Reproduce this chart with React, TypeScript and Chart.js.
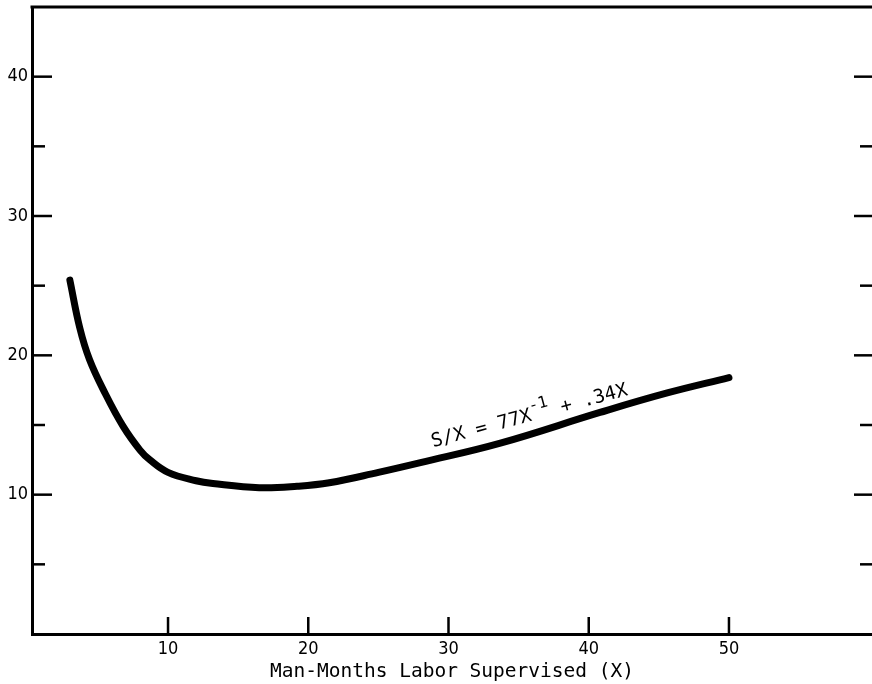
import { useEffect, useRef } from "react";
import { Chart, registerables } from "chart.js";

Chart.register(...registerables);

// Curve (Man-months X vs S/X)
const xValues = [3.0, 3.7, 4.4, 5.5, 6.8, 8.0, 8.7, 10.0, 12.0, 13.2, 16.5, 19.2, 21.5, 25.0, 28.0, 33.7, 40.8, 45.6, 50.0];
const yValues = [25.4, 22.0, 19.7, 17.3, 14.9, 13.2, 12.5, 11.6, 11.0, 10.8, 10.5, 10.6, 10.85, 11.6, 12.3, 13.7, 15.9, 17.3, 18.4];

const xLabelValues = [10, 20, 30, 40, 50];
const yLabelValues = [10, 20, 30, 40];
const yTickValues = [5, 10, 15, 20, 25, 30, 35, 40];

const xTitle = "Man-Months Labor Supervised (X)";
const eqMain = "S/X = 77X";
const eqSup = "-1";
const eqTail = " + .34X";
const eqAnchor = [28.9, 13.4];

const X_MIN = 0.3;
const X_MAX = 60.2;
const Y_MIN = 0;
const Y_MAX = 45;

const MONO = '"DejaVu Sans Mono", "Liberation Mono", monospace';
const COND = '"DejaVu Sans Condensed", "DejaVu Sans", sans-serif';

const framePlugin = {
  id: "framePlugin",
  afterDraw(chart: any) {
    const { ctx, chartArea: a, scales } = chart;
    const x = scales.x;
    const y = scales.y;
    ctx.save();
    ctx.strokeStyle = "#000";
    ctx.lineCap = "butt";
    // top frame line
    ctx.lineWidth = 3;
    ctx.beginPath();
    ctx.moveTo(a.left - 1.5, a.top);
    ctx.lineTo(a.right, a.top);
    ctx.stroke();
    // inner ticks
    ctx.lineWidth = 2.5;
    for (const v of yTickValues) {
      const py = y.getPixelForValue(v);
      const major = v % 10 === 0;
      ctx.beginPath();
      ctx.moveTo(a.left, py);
      ctx.lineTo(a.left + (major ? 20 : 13), py);
      ctx.stroke();
      ctx.beginPath();
      ctx.moveTo(a.right, py);
      ctx.lineTo(a.right - (major ? 18 : 12), py);
      ctx.stroke();
    }
    for (const v of xLabelValues) {
      const px = x.getPixelForValue(v);
      ctx.beginPath();
      ctx.moveTo(px, a.bottom);
      ctx.lineTo(px, a.bottom - 17);
      ctx.stroke();
    }
    // equation label
    const ax = x.getPixelForValue(eqAnchor[0]);
    const ay = y.getPixelForValue(eqAnchor[1]);
    ctx.translate(ax, ay);
    ctx.rotate((-15 * Math.PI) / 180);
    ctx.fillStyle = "#000";
    ctx.textAlign = "left";
    ctx.textBaseline = "alphabetic";
    ctx.font = `19px ${MONO}`;
    let cx = 0;
    ctx.fillText(eqMain, cx, 0);
    cx += ctx.measureText(eqMain).width;
    ctx.font = `16px ${MONO}`;
    ctx.fillText(eqSup, cx, -10);
    cx += ctx.measureText(eqSup).width;
    ctx.font = `19px ${MONO}`;
    ctx.fillText(eqTail, cx, 0);
    ctx.restore();
  },
};

export default function App() {
  const ref = useRef<HTMLCanvasElement>(null);

  useEffect(() => {
    if (!ref.current) return;
    const chart = new Chart(ref.current, {
      type: "line",
      data: {
        datasets: [
          {
            data: xValues.map((v, i) => ({ x: v, y: yValues[i] })),
            borderColor: "#000",
            borderWidth: 7,
            borderCapStyle: "round",
            borderJoinStyle: "round",
            pointRadius: 0,
            fill: false,
            tension: 0.4,
          },
        ],
      },
      options: {
        animation: false,
        responsive: false,
        devicePixelRatio: 1,
        layout: { padding: { top: 7, left: 0, right: 0, bottom: 0 } },
        plugins: {
          legend: { display: false },
          tooltip: { enabled: false },
        },
        scales: {
          x: {
            type: "linear",
            min: X_MIN,
            max: X_MAX,
            afterBuildTicks: (s: any) => {
              s.ticks = xLabelValues.map((v) => ({ value: v }));
            },
            afterFit: (s: any) => {
              s.height = 50;
              s.paddingLeft = 0;
              s.paddingRight = 0;
            },
            grid: { display: false, drawTicks: false },
            border: { display: true, color: "#000", width: 3 },
            ticks: {
              color: "#000",
              font: { family: COND, size: 18 },
              padding: 5,
              maxRotation: 0,
              autoSkip: false,
            },
            title: {
              display: true,
              text: xTitle,
              color: "#000",
              font: { family: MONO, size: 19.5 },
              padding: { top: 0, bottom: 0 },
            },
          },
          y: {
            type: "linear",
            min: Y_MIN,
            max: Y_MAX,
            afterBuildTicks: (s: any) => {
              s.ticks = yLabelValues.map((v) => ({ value: v }));
            },
            afterFit: (s: any) => {
              s.width = 32;
              s.paddingTop = 0;
              s.paddingBottom = 0;
            },
            grid: { display: false, drawTicks: false },
            border: { display: true, color: "#000", width: 3 },
            ticks: {
              color: "#000",
              font: { family: COND, size: 18 },
              padding: 4,
              autoSkip: false,
            },
          },
        },
      },
      plugins: [framePlugin],
    } as any);
    return () => chart.destroy();
  }, []);

  return (
    <div style={{ position: "absolute", left: 0, top: 0, width: 872, height: 684, background: "#fff" }}>
      <canvas ref={ref} width={872} height={684} style={{ display: "block" }} />
    </div>
  );
}
